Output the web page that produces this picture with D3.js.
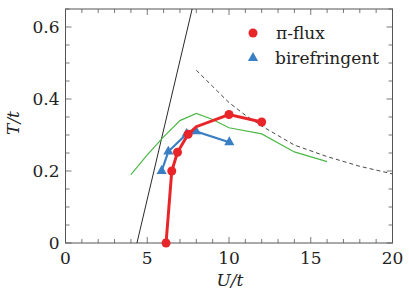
<!DOCTYPE html>
<html><head><meta charset="utf-8">
<script src="https://cdn.jsdelivr.net/npm/d3@7"></script>
<style>body{margin:0;background:#fff;}</style>
</head><body><svg id="c" width="409" height="299"></svg>
<script>
const piFluxU = [6.15, 6.5, 6.85, 7.5, 8.0, 10.0, 12.0];
const piFluxT = [0.0, 0.2, 0.252, 0.302, 0.323, 0.357, 0.336];
const piFluxMarker = [1, 1, 1, 1, 0, 1, 1];
const biroU = [5.88, 6.29, 7.41, 7.98, 10.02];
const biroT = [0.2, 0.254, 0.303, 0.31, 0.28];
const greenU = [4, 5, 6, 7, 8, 9, 10, 12, 14, 16];
const greenT = [0.19, 0.245, 0.295, 0.34, 0.36, 0.343, 0.32, 0.303, 0.253, 0.226];
const dashU = [8, 9, 10, 11, 12, 14, 16, 18, 20];
const dashT = [0.48, 0.435, 0.39, 0.355, 0.325, 0.272, 0.24, 0.213, 0.192];
const solidU = [4.37, 7.76];
const solidT = [0.0, 0.653];
const xTicks = [0, 5, 10, 15, 20];
const yTicks = [0, 0.2, 0.4, 0.6];
const yTickLabels = ["0", "0.2", "0.4", "0.6"];

const FONT = "'DejaVu Serif', serif";
const svg = d3.select("#c");
const L = 65.5, R = 392.5, T = 9, B = 243;
const x = d3.scaleLinear().domain([0, 20]).range([L, R]);
const y = d3.scaleLinear().domain([0, 0.65]).range([B, T]);

const defs = svg.append("defs");
defs.append("clipPath").attr("id","clip").append("rect").attr("x",L).attr("y",T).attr("width",R-L).attr("height",B-T);

svg.append("rect").attr("x",L).attr("y",T).attr("width",R-L).attr("height",B-T).attr("fill","none").attr("stroke","#555").attr("stroke-width",1);

const tc = "#555";
const minorX = d3.range(0, 21, 1), minorY = d3.range(0, 0.651, 0.05);
const tg = svg.append("g").attr("stroke", tc).attr("stroke-width", 0.8);
minorX.forEach(v => {
  const len = xTicks.includes(v) ? 6 : 4;
  tg.append("line").attr("x1",x(v)).attr("x2",x(v)).attr("y1",B).attr("y2",B-len);
  tg.append("line").attr("x1",x(v)).attr("x2",x(v)).attr("y1",T).attr("y2",T+len);
});
minorY.forEach(v => {
  const major = yTicks.some(t => Math.abs(t - v) < 1e-6);
  const len = major ? 6 : 4;
  tg.append("line").attr("y1",y(v)).attr("y2",y(v)).attr("x1",L).attr("x2",L+len);
  tg.append("line").attr("y1",y(v)).attr("y2",y(v)).attr("x1",R).attr("x2",R-len);
});

const fs = 17;
svg.append("g").selectAll("text").data(xTicks).join("text")
  .attr("x", d => x(d)).attr("y", B + 21).attr("text-anchor","middle")
  .attr("font-family", FONT).attr("font-size", fs).attr("fill","#222").text(d => d);
svg.append("g").selectAll("text").data(yTicks).join("text")
  .attr("x", L - 6).attr("y", d => y(d) + 6).attr("text-anchor","end")
  .attr("font-family", FONT).attr("font-size", fs).attr("fill","#222").text((d,i) => yTickLabels[i]);

svg.append("text").attr("x", (L+R)/2 + 1).attr("y", 286).attr("text-anchor","middle")
  .attr("font-family", FONT).attr("font-size", fs).attr("font-style","italic").attr("fill","#222").text("U/t");
svg.append("text").attr("transform", `translate(19,123) rotate(-90)`).attr("text-anchor","middle")
  .attr("font-family", FONT).attr("font-size", fs).attr("font-style","italic").attr("fill","#222").text("T/t");

const pg = svg.append("g").attr("clip-path","url(#clip)");
const line = d3.line().x(d => x(d[0])).y(d => y(d[1]));
const zip = (a, b) => a.map((v, i) => [v, b[i]]);

pg.append("path").datum(zip(solidU, solidT)).attr("d", line).attr("fill","none").attr("stroke","#111").attr("stroke-width",0.9);
pg.append("path").datum(zip(dashU, dashT)).attr("d", line).attr("fill","none").attr("stroke","#333").attr("stroke-width",0.9).attr("stroke-dasharray","4,3");
pg.append("path").datum(zip(greenU, greenT)).attr("d", line).attr("fill","none").attr("stroke","#4db848").attr("stroke-width",1.2);

const blue = "#3a7fc4", red = "#e8262a";
pg.append("path").datum(zip(biroU, biroT)).attr("d", line).attr("fill","none").attr("stroke",blue).attr("stroke-width",2.2);
const tri = d3.symbol().type(d3.symbolTriangle).size(45);
pg.append("g").selectAll("path").data(zip(biroU, biroT)).join("path")
  .attr("transform", d => `translate(${x(d[0])},${y(d[1])})`).attr("d", tri).attr("fill", blue);

pg.append("path").datum(zip(piFluxU, piFluxT)).attr("d", line).attr("fill","none").attr("stroke",red).attr("stroke-width",3);
svg.append("g").selectAll("circle").data(zip(piFluxU, piFluxT).filter((d,i) => piFluxMarker[i])).join("circle")
  .attr("cx", d => x(d[0])).attr("cy", d => y(d[1])).attr("r", 4.5).attr("fill", red);

svg.append("circle").attr("cx", 253).attr("cy", 33).attr("r", 4.5).attr("fill", red);
svg.append("path").attr("transform","translate(253,58)").attr("d", tri).attr("fill", blue);
svg.append("text").attr("x", 276).attr("y", 39).attr("font-family", FONT).attr("font-size", fs).attr("fill","#222").text("π-flux");
svg.append("text").attr("x", 275).attr("y", 64).attr("font-family", FONT).attr("font-size", fs).attr("fill","#222").text("birefringent");
</script></body></html>
